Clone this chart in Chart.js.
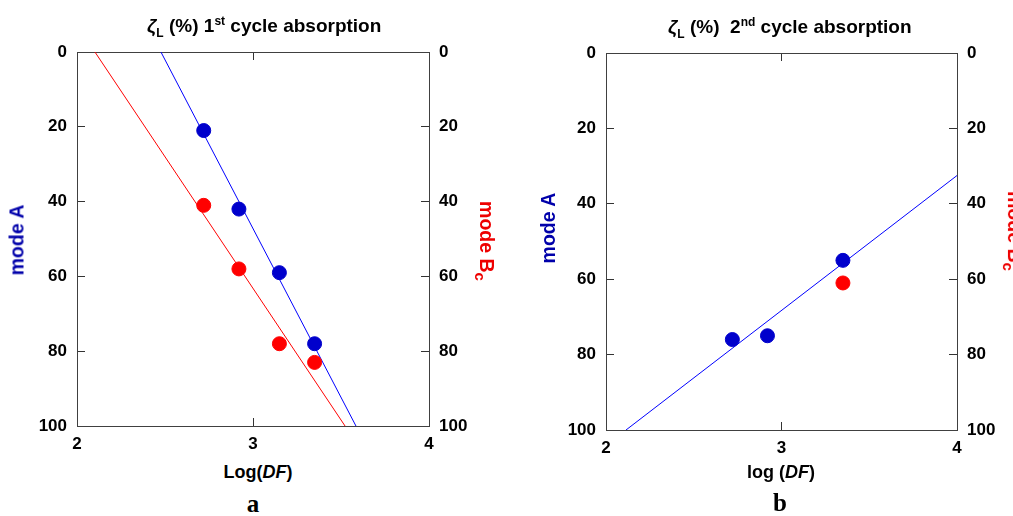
<!DOCTYPE html>
<html>
<head>
<meta charset="utf-8">
<script src="https://cdn.jsdelivr.net/npm/chart.js@4/dist/chart.umd.min.js"></script>
<style>
  html, body { margin: 0; padding: 0; background: #fff; overflow: hidden; width: 1013px; height: 516px; }
  body { position: relative; font-family: 'Liberation Sans', Arial, sans-serif; }
  canvas { position: absolute; }
  .txt { position: absolute; font-weight: bold; white-space: nowrap; }
  .title { font-size: 19px; color: #000; }
  .title sub, .title sup { font-size: 12px; }
  .xlab { font-size: 18px; transform: translate(-50%, -50%); }
  .ylab { font-size: 19.5px; transform: translate(-50%, -50%) rotate(-90deg); }
  .ylab2 { font-size: 19.5px; transform: translate(-50%, -50%) rotate(90deg); }
  .ylab2 sub { font-size: 15px; }
  .cap { font-family: 'Liberation Serif', serif; font-size: 25px; transform: translate(-50%, -50%); }
</style>
</head>
<body>
<canvas id="chartA" width="506" height="460" style="left:0;top:0"></canvas>
<canvas id="chartB" width="500" height="464" style="left:529px;top:0"></canvas>

<div class="txt title" style="left:147px;top:14px"><i>ζ</i><sub>L</sub> (%) 1<sup>st</sup> cycle absorption</div>
<div class="txt title" style="left:668px;top:15px"><i>ζ</i><sub>L</sub> (%)&nbsp; 2<sup>nd</sup> cycle absorption</div>

<div class="txt ylab" style="left:17px;top:240px;color:#0000aa">mode A</div>
<div class="txt ylab2" style="left:485px;top:241px;color:#ee0000">mode B<sub>c</sub></div>
<div class="txt ylab" style="left:548px;top:228px;color:#0000aa">mode A</div>
<div class="txt ylab2" style="left:1013px;top:231px;color:#ee0000">mode B<sub>c</sub></div>

<div class="txt xlab" style="left:258px;top:472px">Log(<i>DF</i>)</div>
<div class="txt xlab" style="left:781px;top:472px">log (<i>DF</i>)</div>

<div class="txt cap" style="left:253px;top:504px">a</div>
<div class="txt cap" style="left:780px;top:503px">b</div>

<script>
// panel a: 1st cycle absorption
var logDF1 = [2.72, 2.92, 3.15, 3.35];
var modeA1 = [21, 42, 59, 78];
var modeBc1 = [41, 58, 78, 83];
// fitted lines (end points, log DF vs zeta)
var fitA1X = [2.477, 3.585];
var fitA1Y = [0, 100];
var fitBc1X = [2.102, 3.523];
var fitBc1Y = [0, 100];

// panel b: 2nd cycle absorption
var logDF2 = [2.72, 2.92, 3.35];
var modeA2 = [76, 75, 55];
var logDF2Bc = [3.35];
var modeBc2 = [61];
var fitA2X = [2.114, 4];
var fitA2Y = [100, 32.5];

var xTicks = [2, 3, 4];
var yTicks = [0, 20, 40, 60, 80, 100];

var BLUE_PT = '#0000cc', BLUE_LN = '#0000ff', RED = '#ff0000';

Chart.defaults.font.family = "'Liberation Sans', Arial, sans-serif";
Chart.defaults.font.weight = 'bold';
Chart.defaults.font.size = 17;
Chart.defaults.color = '#000';

function pts(xs, ys) {
    return xs.map(function(x, i) { return { x: x, y: ys[i] }; });
}

function lineSet(xs, ys, color) {
    return { type: 'line', data: pts(xs, ys), borderColor: color, borderWidth: 1,
             pointRadius: 0, fill: false, order: 2 };
}

function pointSet(xs, ys, color) {
    return { data: pts(xs, ys), backgroundColor: color, borderColor: color,
             pointRadius: 7, pointHoverRadius: 7, order: 1 };
}

function makeScales(w, top, bottom, rightW) {
    var gridOpt = { drawOnChartArea: false, tickLength: -8, color: '#333', lineWidth: 1 };
    var border = { display: true, color: '#404040', width: 1 };
    var tickVals = function(vals) {
        return function(scale) { scale.ticks = vals.map(function(v) { return { value: v }; }); };
    };
    return {
        x: {
            type: 'linear', position: 'bottom', min: 2, max: 4,
            afterBuildTicks: tickVals(xTicks),
            ticks: { padding: 16 },
            grid: gridOpt, border: border,
            afterFit: function(s) { s.height = bottom; }
        },
        x2: {
            type: 'linear', position: 'top', min: 2, max: 4,
            afterBuildTicks: tickVals(xTicks),
            ticks: { display: false },
            grid: gridOpt, border: border,
            afterFit: function(s) { s.height = top; }
        },
        y: {
            type: 'linear', position: 'left', min: 0, max: 100, reverse: true,
            afterBuildTicks: tickVals(yTicks),
            ticks: { padding: 18 },
            grid: gridOpt, border: border,
            afterFit: function(s) { s.width = w; }
        },
        y2: {
            type: 'linear', position: 'right', min: 0, max: 100, reverse: true,
            afterBuildTicks: tickVals(yTicks),
            ticks: { padding: 18 },
            grid: gridOpt, border: border,
            afterFit: function(s) { s.width = rightW; }
        }
    };
}

var commonPlugins = { legend: { display: false }, tooltip: { enabled: false } };

new Chart(document.getElementById('chartA').getContext('2d'), {
    type: 'scatter',
    data: {
        datasets: [
            lineSet(fitBc1X, fitBc1Y, RED),
            lineSet(fitA1X, fitA1Y, BLUE_LN),
            pointSet(logDF1, modeBc1, RED),
            pointSet(logDF1, modeA1, BLUE_PT)
        ]
    },
    options: {
        responsive: false,
        animation: false,
        layout: { padding: 0 },
        scales: makeScales(77, 52, 34, 77),
        plugins: commonPlugins
    }
});

new Chart(document.getElementById('chartB').getContext('2d'), {
    type: 'scatter',
    data: {
        datasets: [
            lineSet(fitA2X, fitA2Y, BLUE_LN),
            pointSet(logDF2Bc, modeBc2, RED),
            pointSet(logDF2, modeA2, BLUE_PT)
        ]
    },
    options: {
        responsive: false,
        animation: false,
        layout: { padding: 0 },
        scales: makeScales(77, 53, 34, 72),
        plugins: commonPlugins
    }
});
</script>
</body>
</html>
